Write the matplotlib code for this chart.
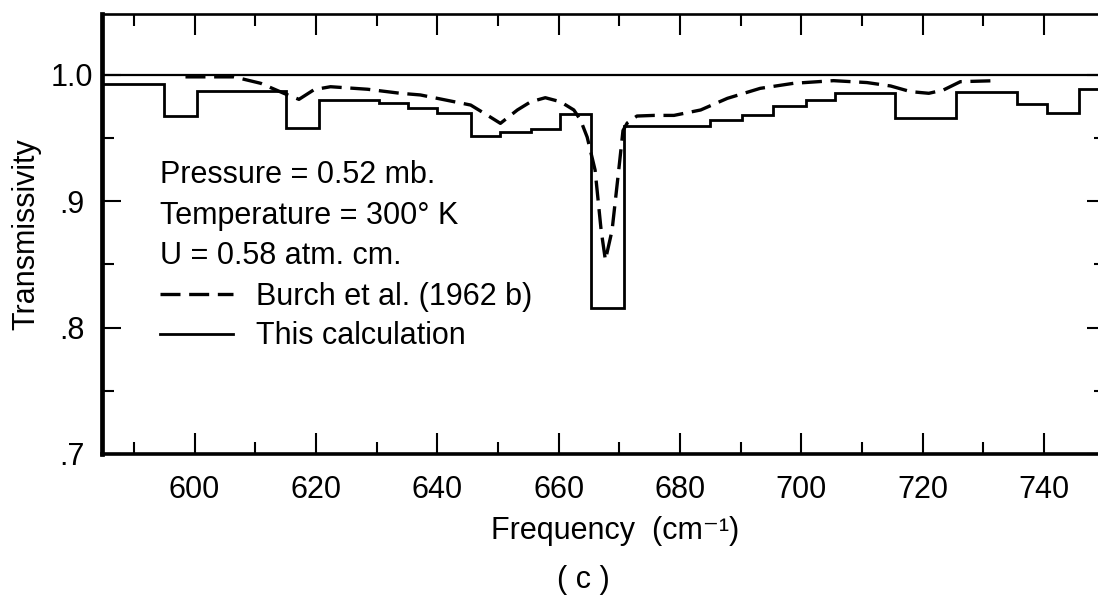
"""Transmissivity of CO2 band near 667 cm-1: step calculation vs Burch et al."""
import matplotlib
matplotlib.use("Agg")
import matplotlib.pyplot as plt
from matplotlib.lines import Line2D

plt.rcParams['font.family'] = ['Liberation Sans', 'DejaVu Sans']
plt.rcParams['font.size'] = 22

# "This calculation" - step edges (cm-1) and level in each interval
calc_edges = [584.8, 595.0, 600.4, 615.1, 620.5, 630.4, 635.1, 640.0, 645.5,
              650.4, 655.4, 660.2, 665.3, 670.7, 685.0, 690.2, 695.4, 700.7,
              705.6, 715.5, 725.4, 735.5, 740.4, 745.7, 750.2]
calc_levels = [0.993, 0.9675, 0.987, 0.958, 0.980, 0.978, 0.974, 0.970,
               0.952, 0.955, 0.957, 0.969, 0.8155, 0.960, 0.964, 0.968,
               0.9755, 0.980, 0.986, 0.966, 0.9865, 0.977, 0.970, 0.989]

# Burch et al. (1962 b) measured curve
burch_freq = [598.5, 606.5, 610.9, 614.7, 617.2, 619.7, 622.4, 628.5, 633.9,
              637.2, 640.0, 645.5, 648.2, 650.4, 653.2, 655.4, 657.8, 660.3,
              662.5, 663.6, 664.7, 666.0, 667.0, 667.7, 668.8, 669.9, 670.6,
              671.3, 672.9, 675.7, 679.0, 683.4, 687.8, 693.2, 698.7, 705.3,
              710.8, 714.7, 718.0, 721.0, 723.4, 726.2, 732.2]
burch_trans = [0.9985, 0.9985, 0.9934, 0.9855, 0.9807, 0.9884, 0.9907, 0.9887,
               0.9855, 0.9842, 0.9815, 0.9762, 0.9683, 0.9617, 0.9723, 0.9788,
               0.9820, 0.9788, 0.9723, 0.9644, 0.9508, 0.9248, 0.877, 0.8535,
               0.877, 0.9248, 0.956, 0.962, 0.9675, 0.968, 0.968, 0.9723,
               0.9815, 0.9894, 0.9934, 0.9955, 0.9940, 0.9913, 0.9868, 0.9855,
               0.9881, 0.9947, 0.9955]

x_major = [600, 620, 640, 660, 680, 700, 720, 740]
x_minor = [590, 610, 630, 650, 670, 690, 710, 730, 750]
y_major = [0.7, 0.8, 0.9, 1.0]
y_labels = ['.7', '.8', '.9', '1.0']
y_minor = [0.75, 0.85, 0.95]

info_lines = ["Pressure = 0.52 mb.", "Temperature = 300° K", "U = 0.58 atm. cm."]

fig = plt.figure(figsize=(10.98, 5.99), dpi=100)
ax = fig.add_axes([0.0932, 0.2421, 0.9141, 0.7346])

ax.axhline(1.0, color='black', lw=1.6)
calc = ax.stairs(calc_levels, calc_edges, baseline=None, color='black', lw=2.0)
burch, = ax.plot(burch_freq, burch_trans, color='black', lw=2.4, dashes=(6, 2.6))

ax.set_xlim(584.8, 750.2)
ax.set_ylim(0.7, 1.0483)
ax.set_xticks(x_major)
ax.set_xticks(x_minor, minor=True)
ax.set_yticks(y_major)
ax.set_yticklabels(y_labels)
ax.set_yticks(y_minor, minor=True)

ax.tick_params(axis='x', which='both', direction='in', top=True, bottom=True,
               width=1.5, pad=15)
ax.tick_params(axis='x', which='major', length=15)
ax.tick_params(axis='x', which='minor', length=8.6)
ax.tick_params(axis='y', which='both', direction='in', left=True, right=True,
               width=1.5, pad=22)
ax.tick_params(axis='y', which='major', length=13.7)
ax.tick_params(axis='y', which='minor', length=8.6)
for lab in ax.get_yticklabels():
    lab.set_horizontalalignment('center')

ax.spines['left'].set_linewidth(3.4)
ax.spines['bottom'].set_linewidth(2.6)
ax.spines['top'].set_linewidth(1.9)
ax.spines['right'].set_visible(False)

ax.set_ylabel("Transmissivity")
ax.yaxis.set_label_coords(-0.061, 0.5)

fig.text(615 / 1098, 1 - 531 / 599, "Frequency  (cm⁻¹)", ha='center', va='center')
fig.text(583 / 1098, 1 - 580 / 599, "( c )", ha='center', va='center')

for i, line in enumerate(info_lines):
    fig.text(159.6 / 1098, 1 - (175 + 40.6 * i) / 599, line, ha='left', va='center')

ax.legend(handles=[burch, Line2D([], [], color='black', lw=2.0)],
          labels=["Burch et al. (1962 b)", "This calculation"],
          loc='upper left', bbox_to_anchor=(159.6 / 1098, 1 - 282 / 599),
          bbox_transform=fig.transFigure, frameon=False, borderpad=0,
          borderaxespad=0, handlelength=2.4, handletextpad=0.75,
          labelspacing=0.31)

fig.savefig('out.png', dpi=100)
